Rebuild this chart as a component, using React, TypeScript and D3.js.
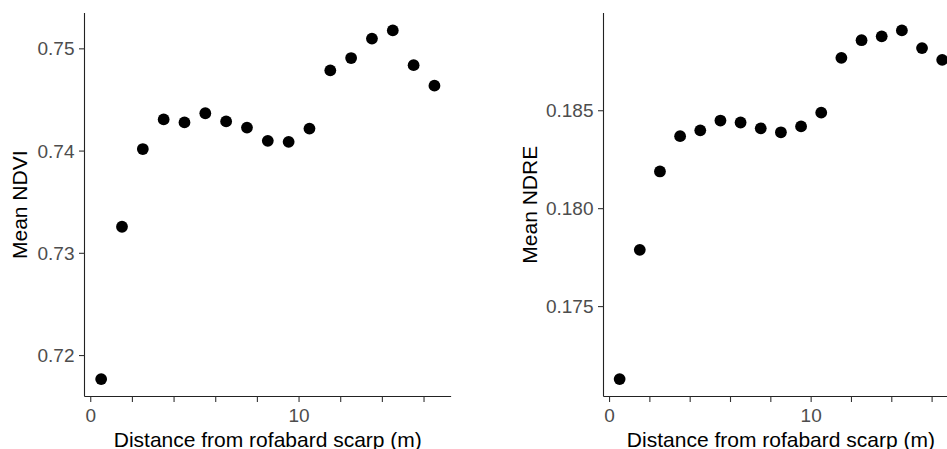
import React from "react";
import * as d3 from "d3";

const distances = [0.5, 1.5, 2.5, 3.5, 4.5, 5.5, 6.5, 7.5, 8.5, 9.5, 10.5, 11.5, 12.5, 13.5, 14.5, 15.5, 16.5];
const ndvi = [0.7177, 0.7326, 0.7402, 0.7431, 0.7428, 0.7437, 0.7429, 0.7423, 0.7410, 0.7409, 0.7422, 0.7479, 0.7491, 0.7510, 0.7518, 0.7484, 0.7464];
const ndre = [0.1713, 0.1779, 0.1819, 0.1837, 0.1840, 0.1845, 0.1844, 0.1841, 0.1839, 0.1842, 0.1849, 0.1877, 0.1886, 0.1888, 0.1891, 0.1882, 0.1876];
const xTicks = [0, 2, 4, 6, 8, 10, 12, 14, 16];
const xTickLabels = ["0", "", "", "", "", "10", "", "", ""];
const ndviTicks = [0.72, 0.73, 0.74, 0.75];
const ndreTicks = [0.175, 0.18, 0.185];
const xTitle = "Distance from rofabard scarp (m)";

const FONT = "'Liberation Sans', Arial, sans-serif";

function expand(vals: number[]): [number, number] {
  const [lo, hi] = d3.extent(vals) as [number, number];
  const pad = (hi - lo) * 0.05;
  return [lo - pad, hi + pad];
}

type PanelProps = {
  values: number[];
  yTicks: number[];
  yFmt: (v: number) => string;
  yTitle: string;
  left: number;
  pxPerUnit: number;
  yTitleX: number;
};

function Panel({ values, yTicks, yFmt, yTitle, left, pxPerUnit, yTitleX }: PanelProps) {
  const top = 13;
  const bottom = 396.5;
  const xd = expand(distances);
  const x = d3.scaleLinear().domain(xd).range([left, left + (xd[1] - xd[0]) * pxPerUnit]);
  const y = d3.scaleLinear().domain(expand(values)).range([bottom, top]);
  const [x0, x1] = x.range();
  return (
    <g>
      <line x1={x0} x2={x1} y1={bottom} y2={bottom} stroke="#222" strokeWidth={1.1} />
      <line x1={x0} x2={x0} y1={top} y2={bottom} stroke="#222" strokeWidth={1.1} />
      {xTicks.map((t, i) => (
        <g key={"xt" + t}>
          <line x1={x(t)} x2={x(t)} y1={bottom} y2={bottom + 5.5} stroke="#333" strokeWidth={1.1} />
          <text x={x(t)} y={421.7} textAnchor="middle" fontFamily={FONT} fontSize={19} fill="#4d4d4d">
            {xTickLabels[i]}
          </text>
        </g>
      ))}
      {yTicks.map((t) => (
        <g key={"yt" + t}>
          <line x1={x0 - 5.5} x2={x0} y1={y(t)} y2={y(t)} stroke="#333" strokeWidth={1.1} />
          <text x={x0 - 10} y={y(t)} dy="0.35em" textAnchor="end" fontFamily={FONT} fontSize={19} fill="#4d4d4d">
            {yFmt(t)}
          </text>
        </g>
      ))}
      {values.map((v, i) => (
        <circle key={"p" + i} cx={x(distances[i])} cy={y(v)} r={5.9} fill="#000" />
      ))}
      <text x={(x0 + x1) / 2} y={447} textAnchor="middle" fontFamily={FONT} fontSize={21} fill="#000">
        {xTitle}
      </text>
      <text
        transform={`translate(${yTitleX},${(top + bottom) / 2}) rotate(-90)`}
        textAnchor="middle"
        fontFamily={FONT}
        fontSize={21}
        fill="#000"
      >
        {yTitle}
      </text>
    </g>
  );
}

export default function App() {
  return (
    <svg
      width={947}
      height={449}
      style={{ position: "absolute", left: 0, top: 0, background: "#fff" }}
    >
      <rect x={0} y={0} width={947} height={449} fill="#fff" />
      <Panel
        values={ndvi}
        yTicks={ndviTicks}
        yFmt={d3.format(".2f")}
        yTitle="Mean NDVI"
        left={84.5}
        pxPerUnit={20.83}
        yTitleX={26.7}
      />
      <Panel
        values={ndre}
        yTicks={ndreTicks}
        yFmt={d3.format(".3f")}
        yTitle="Mean NDRE"
        left={603.5}
        pxPerUnit={20.16}
        yTitleX={536.5}
      />
    </svg>
  );
}
